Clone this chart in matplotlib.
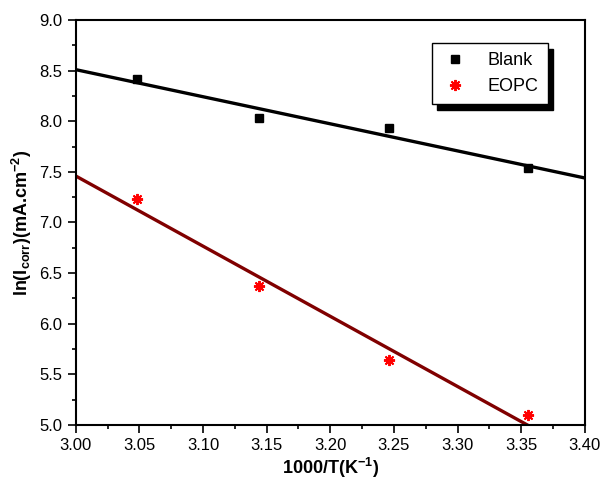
import numpy as np
import matplotlib.pyplot as plt
from matplotlib.ticker import MultipleLocator

plt.rcParams['font.family'] = ['Liberation Sans', 'DejaVu Sans']
plt.rcParams['mathtext.fontset'] = 'custom'
plt.rcParams['mathtext.rm'] = 'Liberation Sans:bold'
plt.rcParams['mathtext.bf'] = 'Liberation Sans:bold'

# data
inv_T = [3.048, 3.144, 3.246, 3.355]
blank = [8.42, 8.03, 7.93, 7.54]
eopc = [7.23, 6.37, 5.64, 5.10]

fig = plt.figure(figsize=(6.01, 4.79), dpi=100)
ax = fig.add_axes([0.126, 0.113, 0.847, 0.845])

# linear fits (Arrhenius)
xfit = np.linspace(3.0, 3.4, 200)
pb = np.polyfit(inv_T, blank, 1)
pe = np.polyfit(inv_T, eopc, 1)
ax.plot(xfit, np.polyval(pb, xfit), color='black', lw=2.4, zorder=2)
ax.plot(xfit, np.polyval(pe, xfit), color='#800000', lw=2.4, zorder=2)

ax.plot(inv_T, blank, 's', color='black', ms=5.5, ls='none', label='Blank', zorder=3)
ax.plot(inv_T, eopc, marker=(8, 2, 0), color='red', mec='red', mew=1.4, ms=8,
        ls='none', label='EOPC', zorder=3)

ax.set_xlim(3.0, 3.4)
ax.set_ylim(5.0, 9.0)
ax.xaxis.set_major_locator(MultipleLocator(0.05))
ax.xaxis.set_minor_locator(MultipleLocator(0.025))
ax.yaxis.set_major_locator(MultipleLocator(0.5))
ax.yaxis.set_minor_locator(MultipleLocator(0.25))
ax.xaxis.set_major_formatter(plt.FormatStrFormatter('%.2f'))
ax.yaxis.set_major_formatter(plt.FormatStrFormatter('%.1f'))
ax.tick_params(which='major', direction='out', length=6, width=1.2, labelsize=12)
ax.tick_params(which='minor', direction='out', length=3, width=1.2)
ax.tick_params(which='both', top=False, right=False)
for s in ax.spines.values():
    s.set_linewidth(1.5)

ax.set_xlabel(r'1000/T(K$^{\mathregular{-1}}$)', fontsize=13, fontweight='bold',
              labelpad=2)
ax.set_ylabel(r'ln(I$_{\mathregular{corr}}$)(mA.cm$^{\mathregular{-2}}$)',
              fontsize=13, fontweight='bold', labelpad=4)

leg = ax.legend(loc='upper right', bbox_to_anchor=(0.927, 0.943), borderaxespad=0,
                fontsize=13, frameon=True, fancybox=False, edgecolor='black',
                shadow={'color': 'black', 'alpha': 1, 'ox': 4, 'oy': -4},
                handletextpad=1.0, borderpad=0.5, labelspacing=0.5,
                handlelength=1.6)
leg.get_frame().set_linewidth(1)

fig.savefig('out.png', dpi=100)
